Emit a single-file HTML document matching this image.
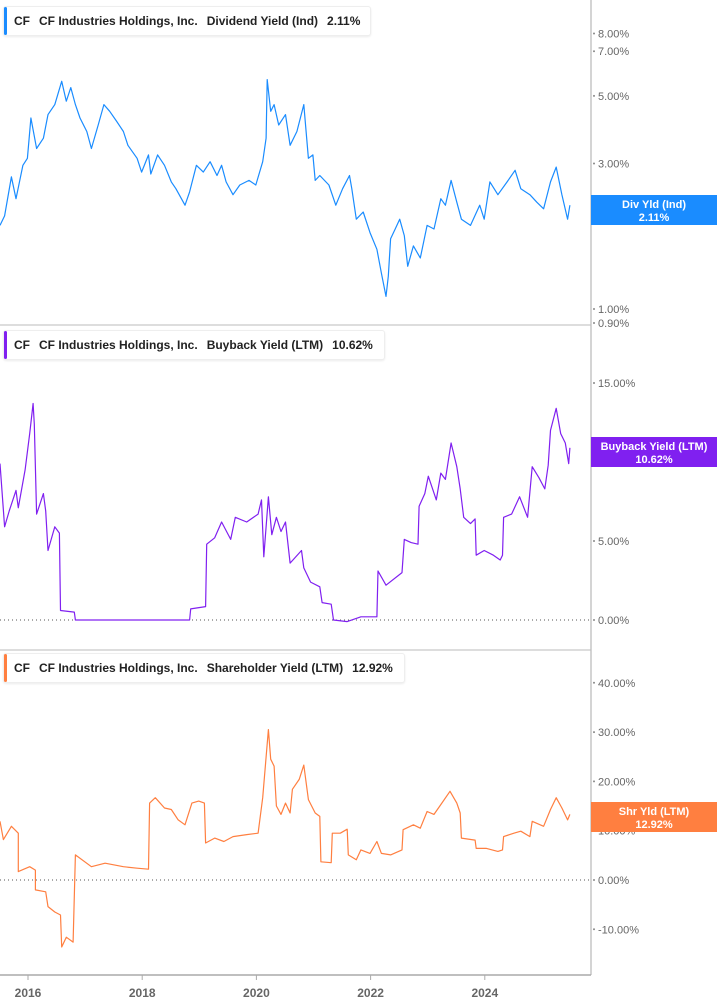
<!DOCTYPE html>
<html><head><meta charset="utf-8">
<style>
body{margin:0;background:#fff;font-family:"Liberation Sans",sans-serif;}
#wrap{position:relative;width:717px;height:1005px;overflow:hidden;}
.legend{position:absolute;left:3px;height:28px;background:#fff;border:1px solid #eee;border-radius:3px;box-shadow:0 1px 2px rgba(0,0,0,.08);font-size:12px;font-weight:bold;color:#222;line-height:28px;padding-left:10px;white-space:nowrap;}
.legend .bar{position:absolute;left:0;top:0;width:3px;height:100%;border-radius:2px;}
.legend span{margin-right:9px;}
</style></head><body>
<div id="wrap">
<svg id="svg" width="717" height="1005" style="position:absolute;left:0;top:0"></svg>
<div class="legend" style="top:6px;width:356px"><div class="bar" style="background:#1a8cff"></div><span>CF</span><span>CF Industries Holdings, Inc.</span><span>Dividend Yield (Ind)</span><span>2.11%</span></div>
<div class="legend" style="top:330px;width:370px"><div class="bar" style="background:#8020f0"></div><span>CF</span><span>CF Industries Holdings, Inc.</span><span>Buyback Yield (LTM)</span><span>10.62%</span></div>
<div class="legend" style="top:653px;width:390px"><div class="bar" style="background:#ff7f40"></div><span>CF</span><span>CF Industries Holdings, Inc.</span><span>Shareholder Yield (LTM)</span><span>12.92%</span></div>
</div>
<script>
const divDates=[2015.51,2015.59,2015.71,2015.79,2015.91,2015.99,2016.05,2016.15,2016.27,2016.35,2016.47,2016.59,2016.67,2016.75,2016.83,2016.91,2017.03,2017.11,2017.23,2017.33,2017.43,2017.55,2017.67,2017.75,2017.91,2017.99,2018.11,2018.15,2018.27,2018.39,2018.51,2018.59,2018.75,2018.83,2018.95,2019.07,2019.19,2019.31,2019.39,2019.47,2019.59,2019.71,2019.87,2019.99,2020.11,2020.17,2020.19,2020.25,2020.31,2020.39,2020.51,2020.59,2020.71,2020.83,2020.91,2020.99,2021.03,2021.11,2021.27,2021.39,2021.51,2021.63,2021.67,2021.75,2021.87,2021.99,2022.11,2022.19,2022.27,2022.31,2022.35,2022.43,2022.51,2022.59,2022.65,2022.75,2022.87,2022.99,2023.11,2023.23,2023.31,2023.41,2023.51,2023.59,2023.75,2023.91,2023.99,2024.09,2024.23,2024.39,2024.53,2024.63,2024.79,2024.91,2025.03,2025.15,2025.25,2025.35,2025.45,2025.49];
const divValues=[1.88,2.02,2.71,2.30,2.96,3.12,4.23,3.36,3.63,4.34,4.68,5.58,4.80,5.32,4.68,4.23,3.82,3.36,4.01,4.68,4.45,4.13,3.82,3.44,3.12,2.81,3.20,2.77,3.20,2.96,2.61,2.48,2.19,2.42,2.96,2.81,3.04,2.74,2.96,2.61,2.37,2.55,2.64,2.55,3.04,3.63,5.65,4.45,4.68,4.01,4.34,3.44,3.82,4.68,3.12,3.20,2.64,2.74,2.55,2.19,2.48,2.74,2.48,1.97,2.08,1.78,1.57,1.31,1.10,1.28,1.70,1.83,1.97,1.74,1.38,1.61,1.47,1.88,1.83,2.30,2.19,2.64,2.24,1.97,1.88,2.19,1.97,2.61,2.37,2.61,2.85,2.48,2.37,2.24,2.13,2.61,2.92,2.37,1.97,2.19];
const bbDates=[2015.51,2015.59,2015.67,2015.79,2015.83,2015.95,2016.03,2016.09,2016.11,2016.15,2016.27,2016.31,2016.35,2016.47,2016.55,2016.57,2016.81,2016.83,2018.83,2018.85,2019.11,2019.13,2019.27,2019.39,2019.55,2019.63,2019.83,2020.03,2020.09,2020.13,2020.21,2020.27,2020.35,2020.43,2020.51,2020.59,2020.79,2020.83,2020.95,2021.11,2021.15,2021.31,2021.35,2021.59,2021.83,2022.11,2022.13,2022.27,2022.55,2022.59,2022.71,2022.83,2022.85,2022.95,2023.01,2023.15,2023.23,2023.31,2023.41,2023.51,2023.57,2023.63,2023.75,2023.83,2023.85,2023.99,2024.15,2024.27,2024.31,2024.33,2024.47,2024.61,2024.75,2024.83,2024.95,2025.05,2025.11,2025.15,2025.25,2025.33,2025.41,2025.47,2025.49];
const bbValues=[9.9,5.9,6.9,8.2,7.1,9.5,11.8,13.7,12.4,6.7,8.0,6.9,4.4,5.9,5.5,0.6,0.5,0,0,0.7,0.85,4.8,5.2,6.2,5.1,6.5,6.2,6.7,7.6,4.0,7.8,5.4,6.5,5.6,6.2,3.6,4.4,3.3,2.4,2.1,1.1,1.0,0,-0.1,0.2,0.2,3.1,2.2,3.0,5.1,4.9,4.8,7.2,8.0,9.1,7.6,9.3,8.9,11.2,9.7,8.3,6.5,6.1,6.4,4.1,4.4,4.1,3.8,4.1,6.5,6.7,7.8,6.5,9.7,9.0,8.3,9.8,12.0,13.4,11.8,11.2,9.9,10.9];
const shDates=[2015.51,2015.57,2015.71,2015.83,2015.83,2016.03,2016.13,2016.13,2016.31,2016.35,2016.47,2016.57,2016.59,2016.67,2016.79,2016.83,2017.11,2017.35,2017.67,2017.91,2018.11,2018.13,2018.23,2018.39,2018.51,2018.63,2018.75,2018.87,2018.99,2019.09,2019.11,2019.27,2019.43,2019.59,2019.83,2020.03,2020.11,2020.21,2020.25,2020.31,2020.35,2020.43,2020.51,2020.59,2020.63,2020.75,2020.83,2020.91,2021.03,2021.11,2021.13,2021.31,2021.33,2021.47,2021.59,2021.61,2021.75,2021.83,2021.99,2022.11,2022.19,2022.35,2022.55,2022.57,2022.75,2022.87,2022.99,2023.11,2023.23,2023.39,2023.51,2023.57,2023.59,2023.83,2023.85,2024.03,2024.23,2024.31,2024.33,2024.51,2024.63,2024.79,2024.83,2025.03,2025.15,2025.25,2025.35,2025.45,2025.49];
const shValues=[11.9,8.2,10.9,9.5,1.7,2.7,2.0,-2.0,-2.4,-5.4,-6.5,-7.1,-13.6,-11.6,-12.6,5.1,2.7,3.4,2.7,2.4,2.2,15.6,16.7,14.6,14.3,12.2,11.2,15.6,16.0,15.6,7.5,8.5,7.8,8.8,9.2,9.5,16.7,30.5,24.5,23.1,15.0,13.3,15.6,13.6,18.4,20.4,23.3,16.3,13.6,12.9,3.7,3.5,9.5,9.5,10.3,5.1,4.1,6.1,5.4,7.8,5.4,5.1,6.1,10.2,11.2,10.5,13.9,13.3,15.3,18.0,15.6,13.6,8.5,8.1,6.4,6.4,5.8,6.1,8.8,9.5,9.9,8.8,11.9,10.9,14.3,16.7,14.6,12.2,13.3];
const yearTicks=[2016,2018,2020,2022,2024];
const divTicks=[8,7,5,3,2,1,0.9];
const bbTicks=[15,10,5,0];
const shTicks=[40,30,20,10,0,-10];

const NS="http://www.w3.org/2000/svg";
const svg=document.getElementById('svg');
function mk(t,a,p){const e=document.createElementNS(NS,t);for(const k in a)e.setAttribute(k,a[k]);(p||svg).appendChild(e);return e;}
const X=y=>28+(y-2016)*57.1;
const Y1=v=>309-305*Math.log10(v);
const Y2=v=>620-15.8*v;
const Y3=v=>880-4.93*v;
const AX=591;

// frame
let e;
e=mk('line',{x1:AX,y1:0,x2:AX,y2:975,stroke:'#aaa','stroke-width':1});


e=mk('line',{x1:0,y1:325,x2:AX,y2:325,stroke:'#bbb','stroke-width':1});


e=mk('line',{x1:0,y1:650,x2:AX,y2:650,stroke:'#bbb','stroke-width':1});


e=mk('line',{x1:0,y1:975,x2:AX,y2:975,stroke:'#aaa','stroke-width':1.5});


yearTicks.forEach(yr=>{
  const t=mk('line',{x1:X(yr),y1:975,x2:X(yr),y2:980,stroke:'#aaa'});
  
  
  const l=mk('text',{x:X(yr),y:997,'text-anchor':'middle','font-size':12,'font-weight':'bold',fill:'#666'});
  l.textContent=yr;
  
  
});
function ticks(arr,f,fmt){
  arr.forEach(v=>{
    const y=f(v);
    const d=mk('circle',{cx:AX+3,cy:y,r:1,fill:'#888'});
    
    
    const l=mk('text',{x:AX+7,y:y+4,'font-size':11,fill:'#666'});
    l.textContent=v.toFixed(2)+'%';
    
    
  });
}
ticks(divTicks,Y1);ticks(bbTicks,Y2);ticks(shTicks,Y3);
// zero lines
e=mk('line',{x1:0,y1:Y2(0),x2:AX,y2:Y2(0),stroke:'#555','stroke-dasharray':'1 3'});


e=mk('line',{x1:0,y1:Y3(0),x2:AX,y2:Y3(0),stroke:'#555','stroke-dasharray':'1 3'});


function line(ds,vs,f,c,name){
  const p=ds.map((d,i)=>(i?'L':'M')+X(d).toFixed(1)+','+f(vs[i]).toFixed(1)).join('');
  const el=mk('path',{d:p,fill:'none',stroke:c,'stroke-width':1.2,'stroke-linejoin':'round'});
  
  
}
line(divDates,divValues,Y1,'#1a8cff','dividend-yield-line');
line(bbDates,bbValues,Y2,'#8020f0','buyback-yield-line');
line(shDates,shValues,Y3,'#ff7f40','shareholder-yield-line');
function tag(y,c,t1,t2,name){
  const r=mk('rect',{x:AX,y:y,width:126,height:30,fill:c});
  
  
  const a=mk('text',{x:AX+63,y:y+13,'text-anchor':'middle','font-size':11,'font-weight':'bold',fill:'#fff'});a.textContent=t1;
  
  
  const b=mk('text',{x:AX+63,y:y+26,'text-anchor':'middle','font-size':11,'font-weight':'bold',fill:'#fff'});b.textContent=t2;
  
  
}
tag(195,'#1a8cff','Div Yld (Ind)','2.11%','dividend-value-tag');
tag(437,'#8020f0','Buyback Yield (LTM)','10.62%','buyback-value-tag');
tag(802,'#ff7f40','Shr Yld (LTM)','12.92%','shareholder-value-tag');
</script>
</body></html>
